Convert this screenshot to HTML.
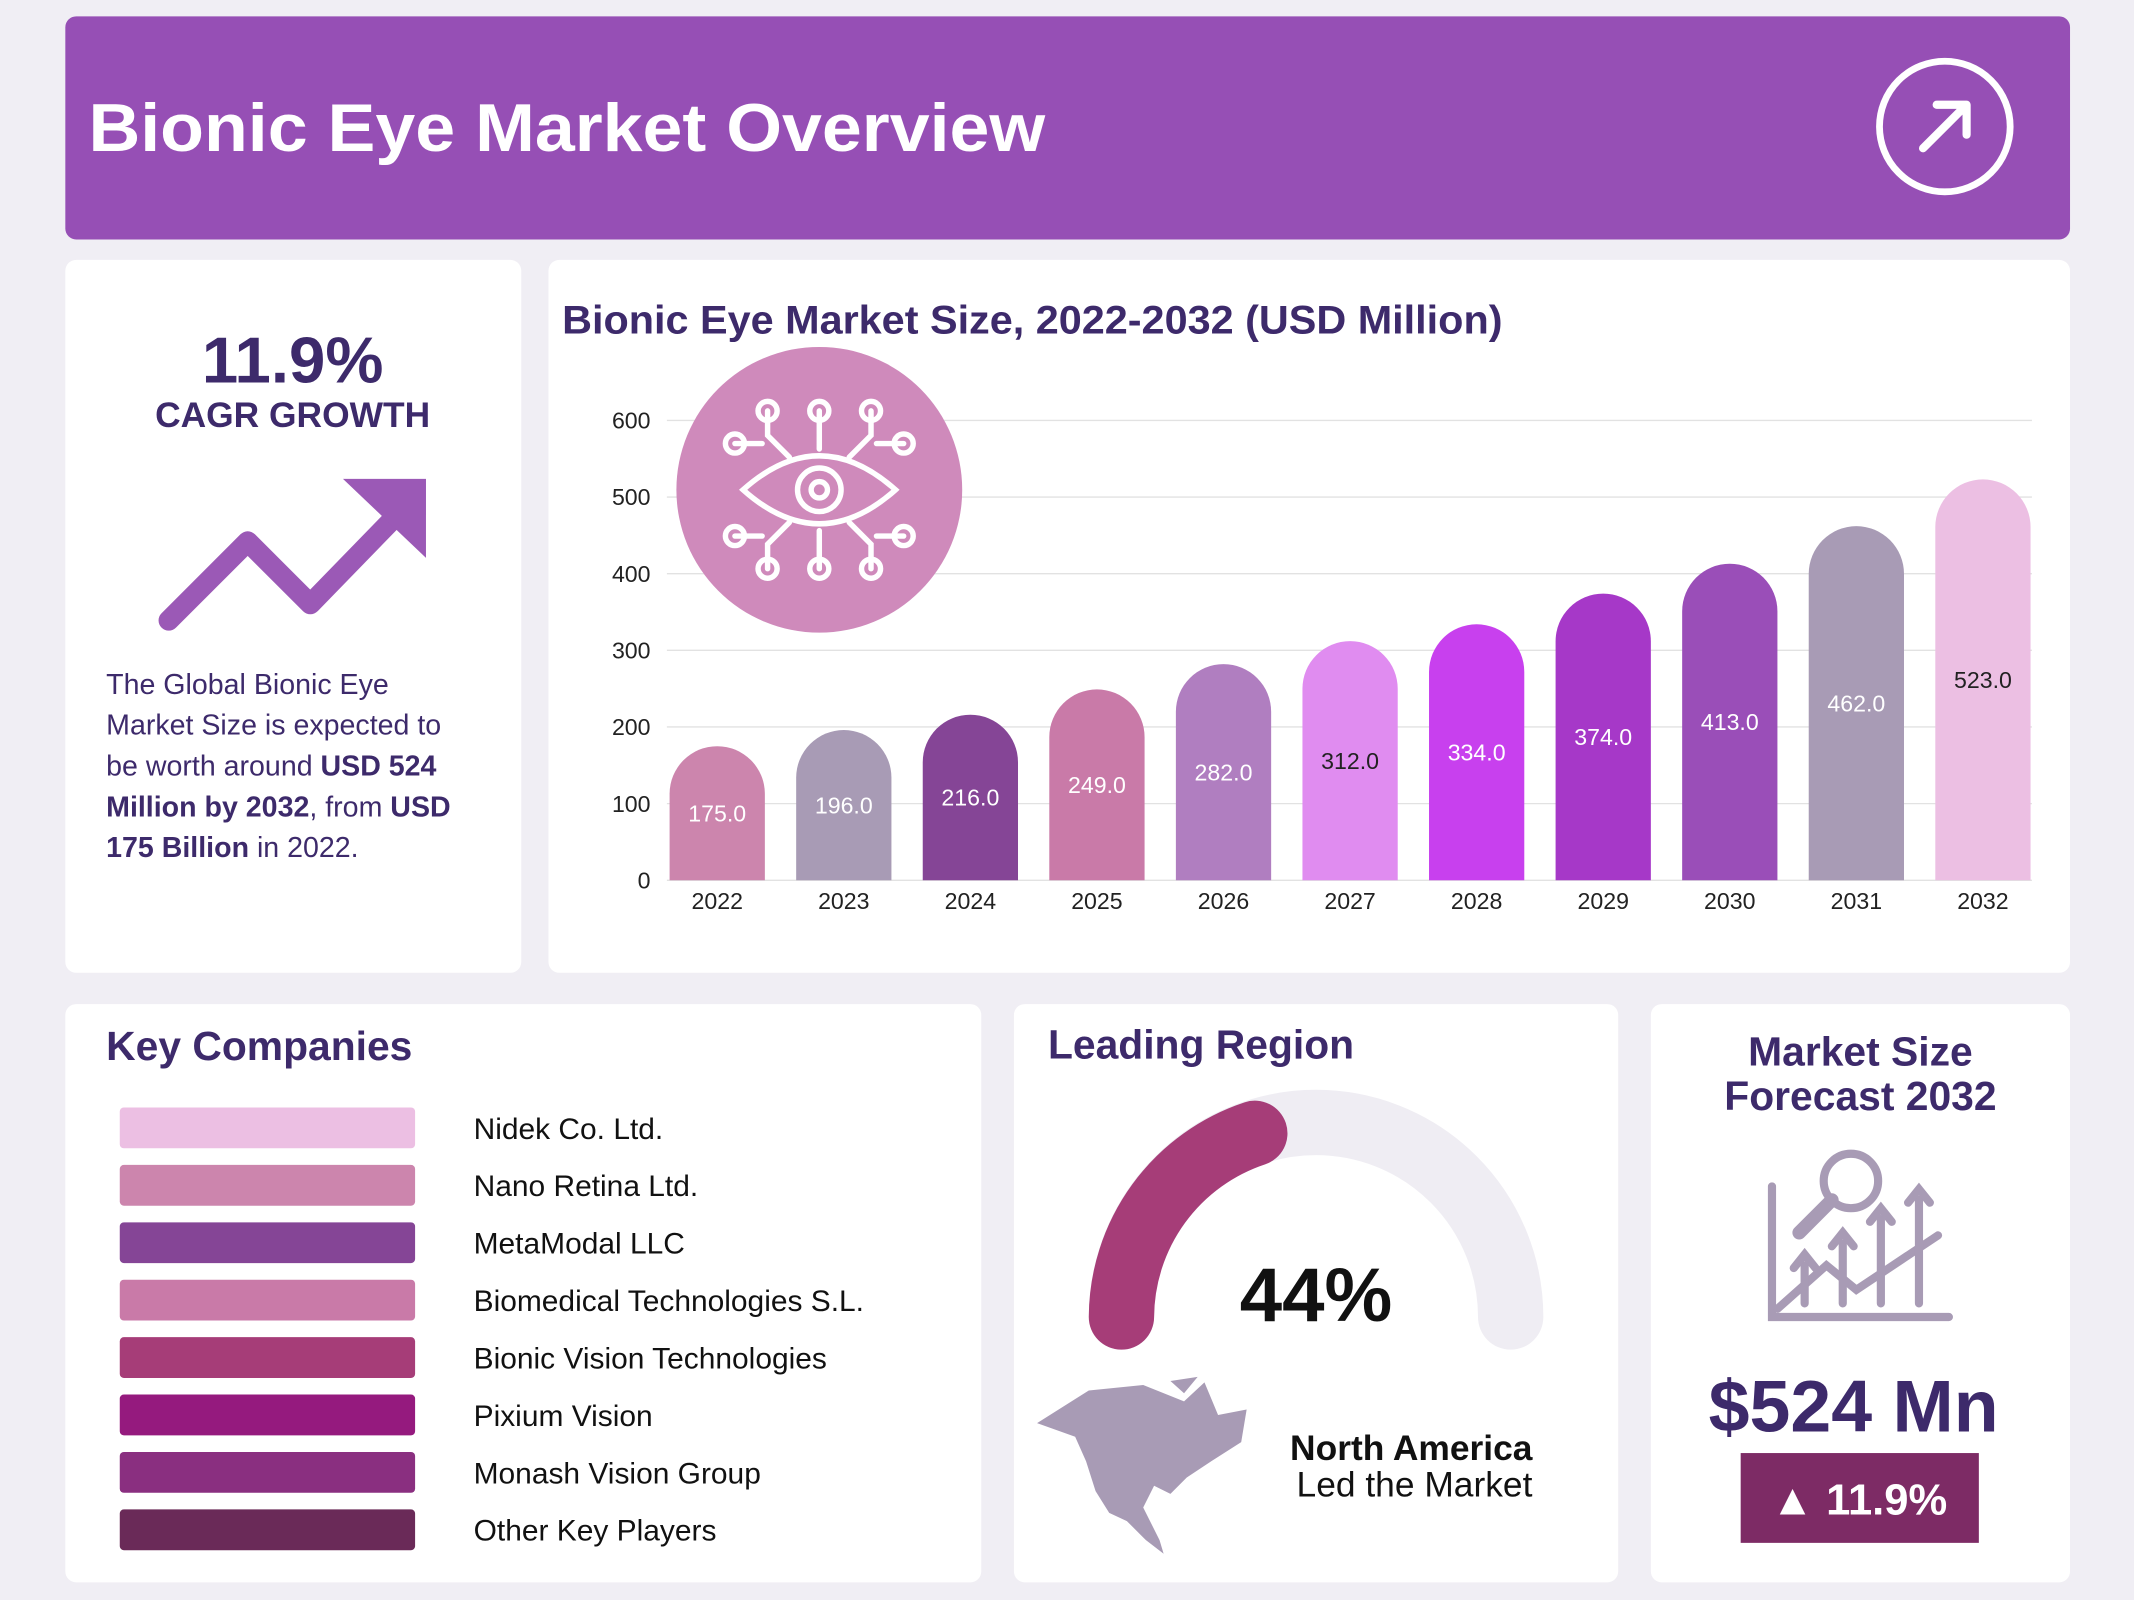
<!DOCTYPE html>
<html><head><meta charset="utf-8"><style>
html,body{margin:0;padding:0;background:#f0eef4;}
svg{display:block;font-family:"Liberation Sans",sans-serif;}
</style></head><body>
<svg id="root" width="2134" height="1600" viewBox="0 0 1568 1176" preserveAspectRatio="none">
<rect x="0" y="0" width="1568" height="1176" fill="#f0eef4"/>
<g>
<rect x="48" y="12" width="1473" height="164" rx="8" fill="#964fb5"/>
<text x="65" y="111" font-size="50" font-weight="bold" fill="#fff" textLength="703" lengthAdjust="spacingAndGlyphs">Bionic Eye Market Overview</text>
<g>
<circle cx="1429" cy="93" r="48" fill="none" stroke="#fff" stroke-width="5"/>
<path d="M1413 109 L1445 77 M1423 77 L1445 77 L1445 99" fill="none" stroke="#fff" stroke-width="6" stroke-linecap="round" stroke-linejoin="round"/>
</g></g>

<g>
<rect x="48" y="191" width="335" height="524" rx="8" fill="#fff"/>
<text x="215" y="281" font-size="48" font-weight="bold" fill="#3d2a6b" text-anchor="middle">11.9%</text>
<text x="215" y="314" font-size="26" font-weight="bold" fill="#3d2a6b" text-anchor="middle">CAGR GROWTH</text>
<g>
<path d="M124 456 L182 398 L228 444 L298 372" fill="none" stroke="#9b59b6" stroke-width="15" stroke-linecap="round" stroke-linejoin="round"/>
<path d="M252 352 L313 352 L313 410 Z" fill="#9b59b6"/>
</g>
<g font-size="21" fill="#3d2a6b">
<text x="78" y="510">The Global Bionic Eye</text>
<text x="78" y="540">Market Size is expected to</text>
<text x="78" y="570">be worth around <tspan font-weight="bold">USD 524</tspan></text>
<text x="78" y="600"><tspan font-weight="bold">Million by 2032</tspan>, from <tspan font-weight="bold">USD</tspan></text>
<text x="78" y="630"><tspan font-weight="bold">175 Billion</tspan> in 2022.</text>
</g></g>

<g>
<rect x="403" y="191" width="1118" height="524" rx="8" fill="#fff"/>
<text x="413" y="245" font-size="29" font-weight="bold" fill="#3d2a6b" textLength="691" lengthAdjust="spacingAndGlyphs">Bionic Eye Market Size, 2022-2032 (USD Million)</text>
<g id="grid"></g>
<g id="yaxis"></g>
<g>
<circle cx="602" cy="360" r="105" fill="#cf8abb"/>
<g fill="none" stroke="#fff" stroke-width="4" stroke-linecap="round">
<path d="M546 360 Q602 310 658 360 Q602 410 546 360 Z"/>
<circle cx="602" cy="360" r="16"/><circle cx="602" cy="360" r="6"/>
<path d="M564 302 L564 320 L580 336 M602 302 L602 330 M640 302 L640 320 L624 336 M564 418 L564 400 L580 384 M602 418 L602 390 M640 418 L640 400 L624 384 M540 326 L560 326 M664 326 L644 326 M540 394 L560 394 M664 394 L644 394"/>
<circle cx="564" cy="302" r="7"/><circle cx="602" cy="302" r="7"/><circle cx="640" cy="302" r="7"/>
<circle cx="564" cy="418" r="7"/><circle cx="602" cy="418" r="7"/><circle cx="640" cy="418" r="7"/>
<circle cx="540" cy="326" r="7"/><circle cx="664" cy="326" r="7"/><circle cx="540" cy="394" r="7"/><circle cx="664" cy="394" r="7"/>
</g></g>
<g id="bars"></g>
<g id="xaxis"></g>
</g>

<g>
<rect x="48" y="738" width="673" height="425" rx="8" fill="#fff"/>
<text x="78" y="779" font-size="30" font-weight="bold" fill="#3d2a6b">Key Companies</text>
<g id="companies"></g>
</g>

<g>
<rect x="745" y="738" width="444" height="425" rx="8" fill="#fff"/>
<text x="770" y="778" font-size="30" font-weight="bold" fill="#3d2a6b">Leading Region</text>
<path d="M824 968 A143 143 0 0 1 1110 968" fill="none" stroke="#efedf3" stroke-width="48" stroke-linecap="round"/>
<path d="M824 968 A143 143 0 0 1 922 833" fill="none" stroke="#a63d78" stroke-width="48" stroke-linecap="round"/>
<text x="967" y="971" font-size="56" font-weight="bold" fill="#111" text-anchor="middle">44%</text>
<path d="M762 1046 L800 1022 L840 1018 L870 1030 L885 1016 L895 1040 L916 1036 L912 1060 L890 1074 L872 1086 L860 1098 L848 1092 L840 1108 L852 1132 L855 1142 L842 1132 L828 1118 L815 1112 L805 1096 L798 1074 L790 1056 Z M860 1015 L880 1012 L870 1024 Z" fill="#a89bb5"/>
<text x="1126" y="1073" font-size="26" font-weight="bold" fill="#111" text-anchor="end">North America</text>
<text x="1126" y="1100" font-size="26" fill="#111" text-anchor="end">Led the Market</text>
</g>

<g>
<rect x="1213" y="738" width="308" height="425" rx="8" fill="#fff"/>
<text x="1367" y="783" font-size="30" font-weight="bold" fill="#3d2a6b" text-anchor="middle">Market Size</text>
<text x="1367" y="816" font-size="30" font-weight="bold" fill="#3d2a6b" text-anchor="middle">Forecast 2032</text>
<g fill="none" stroke="#a89bb5" stroke-width="6" stroke-linecap="round">
<path d="M1302 872 L1302 968 L1432 968"/>
<path d="M1306 962 L1342 930 L1364 948 L1424 908"/>
<path d="M1326 958 L1326 930 M1354 958 L1354 914 M1382 958 L1382 896 M1410 958 L1410 882"/>
<path d="M1318 932 L1326 922 L1334 932 M1346 916 L1354 906 L1362 916 M1374 898 L1382 888 L1390 898 M1402 884 L1410 874 L1418 884"/>
<circle cx="1360" cy="868" r="20"/><path d="M1346 882 L1322 906" stroke-width="10"/>
</g>
<text x="1362" y="1052" font-size="54" font-weight="bold" fill="#3d2a6b" text-anchor="middle">$524 Mn</text>
<rect x="1279" y="1068" width="175" height="66" fill="#7d2b65"/>
<text x="1366" y="1113" font-size="32" font-weight="bold" fill="#fff" text-anchor="middle">▲ 11.9%</text>
</g>
</svg>
<script>
const years=["2022","2023","2024","2025","2026","2027","2028","2029","2030","2031","2032"];
const values=[175,196,216,249,282,312,334,374,413,462,523];
const barColors=["#cc85ad","#a89bb5","#854596","#c97aa8","#b07ec0","#e08cf0","#c840ee","#a638c8","#9a4eb8","#a89bb5","#ecbfe3"];
const yTicks=[0,100,200,300,400,500,600];
const companies=["Nidek Co. Ltd.","Nano Retina Ltd.","MetaModal LLC","Biomedical Technologies S.L.","Bionic Vision Technologies","Pixium Vision","Monash Vision Group","Other Key Players"];
const companyColors=["#ecbfe3","#cc85ad","#854596","#c97aa8","#a63d78","#951a7e","#8a2f80","#6a2a58"];
const NS="http://www.w3.org/2000/svg";
function el(t,a,p){const e=document.createElementNS(NS,t);for(const k in a)e.setAttribute(k,a[k]);p.appendChild(e);return e;}
const y=v=>647-v*(338/600);
const x=i=>527+i*93;
const grid=document.getElementById('grid'),ya=document.getElementById('yaxis'),bars=document.getElementById('bars'),xa=document.getElementById('xaxis');
yTicks.forEach(t=>{
 const l=el('line',{x1:490,x2:1493,y1:y(t),y2:y(t),stroke:'#e2e2e2','stroke-width':1},grid);
 
 
 const tx=el('text',{x:478,y:y(t)+6,'font-size':17,'text-anchor':'end',fill:'#222'},ya);
 tx.textContent=t;
 
 
});
const bw=70,r=35;
values.forEach((v,i)=>{
 const cx=x(i),top=y(v),bot=647,l=cx-bw/2,rr=Math.min(r,bot-top);
 const p=el('path',{d:`M${l} ${bot} L${l} ${top+rr} A${rr} ${rr} 0 0 1 ${l+bw} ${top+rr} L${l+bw} ${bot} Z`,fill:barColors[i]},bars);
 
 
 const t=el('text',{x:cx,y:y(v/2)+6,'font-size':17,'text-anchor':'middle',fill:(i===5||i===10)?'#222':'#fff'},bars);
 t.textContent=v.toFixed(1);
 
 
 const xt=el('text',{x:cx,y:668,'font-size':17,'text-anchor':'middle',fill:'#222'},xa);
 xt.textContent=years[i];
 
 
});
const cg=document.getElementById('companies');
companies.forEach((c,i)=>{
 const cy=829+i*42.2;
 const rc=el('rect',{x:88,y:cy-15,width:217,height:30,rx:3,fill:companyColors[i]},cg);
 
 
 const t=el('text',{x:348,y:cy+8,'font-size':22,fill:'#111'},cg);
 t.textContent=c;
 
 
});
</script>
</body></html>
